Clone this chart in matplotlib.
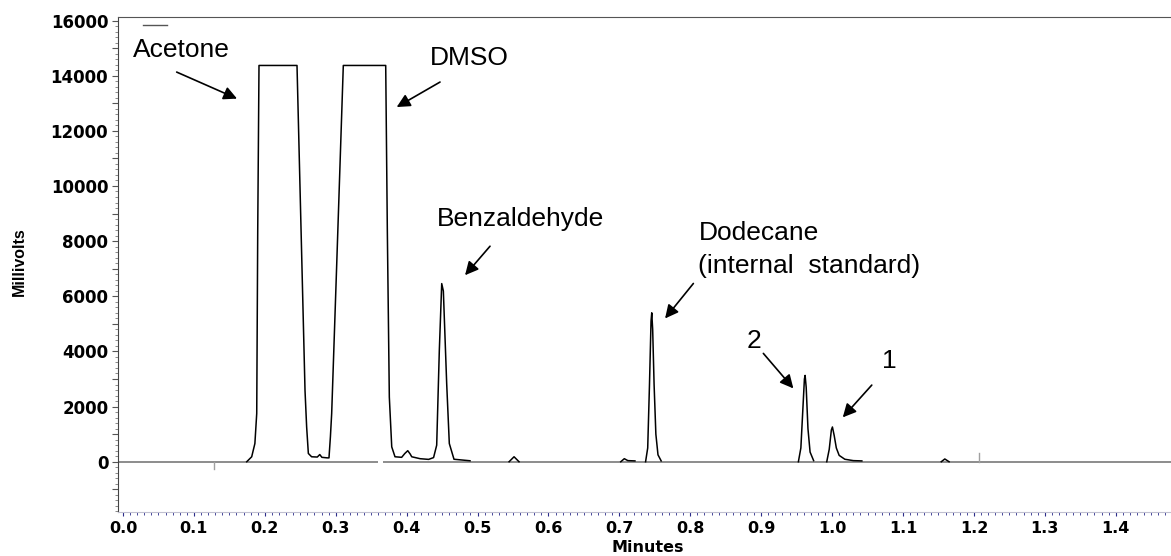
import numpy as np
import matplotlib
matplotlib.use('Agg')
import matplotlib.pyplot as plt
from matplotlib.ticker import MultipleLocator, FuncFormatter

# chromatogram trace (minutes, millivolts), nan = gap
trace_t = [0.1745, 0.1815, 0.186, 0.1886, 0.190, 0.1918, 0.2454, 0.2567, 0.259, 0.2614, 0.266, 0.274, 0.2775,
           0.2805, 0.288, 0.2905, 0.2925, 0.2943, 0.3014, 0.3107, 0.3705, 0.3728, 0.3756, 0.379, 0.3836, 0.393,
           0.3975, 0.4016, 0.405, 0.4072, 0.419, 0.431, 0.438, 0.4424, 0.4461, 0.4495, 0.4518, 0.4565, 0.4602,
           0.4668, 0.4894, np.nan,
           0.5445, 0.5515, 0.5585, np.nan,
           0.702, 0.707, 0.712, 0.722, np.nan,
           0.737, 0.740, 0.7425, 0.7447, 0.7457, 0.747, 0.749, 0.7515, 0.7545, 0.759, np.nan,
           0.9525, 0.956, 0.959, 0.961, 0.962, 0.9635, 0.966, 0.969, 0.974, np.nan,
           0.9925, 0.996, 0.999, 1.0005, 1.003, 1.006, 1.010, 1.018, 1.030, 1.042, np.nan,
           1.154, 1.159, 1.165]
trace_mv = [0, 180, 660, 1750, 8360, 14370, 14370, 2580, 1260, 300, 180, 170, 260,
            160, 140, 140, 900, 1750, 7160, 14370, 14370, 8360, 2345, 540, 180, 160,
            300, 400, 280, 180, 110, 85, 150, 600, 4030, 6460, 6190, 2830, 660,
            90, 35, np.nan,
            0, 180, 0, np.nan,
            0, 110, 40, 30, np.nan,
            0, 500, 2800, 5100, 5400, 4800, 2800, 1000, 250, 30, np.nan,
            0, 500, 2000, 3000, 3130, 2700, 1200, 350, 40, np.nan,
            0, 450, 1150, 1260, 950, 500, 230, 90, 40, 30, np.nan,
            0, 100, 0]

# grey baseline pieces and event marks
base_start = [-0.01, 0.367]
base_end = [0.360, 1.50]
event_t = [0.129, 1.207]
event_mv = [-280, 300]
stub_t = [0.0286, 0.0616]
stub_mv = [15820, 15820]

# labels: text, text pos, arrow tail, arrow tip
labels = ['Acetone', 'DMSO', 'Benzaldehyde', 'Dodecane', '2']
label_t = [0.0141, 0.433, 0.4429, 0.8128, 0.880]
label_mv = [14674, 14373, 8540, 8033, 4109]
tail_t = [0.0757, 0.4471, 0.5176, 0.8044, 0.9031]
tail_mv = [14130, 13768, 7815, 6464, 3928]
tip_t = [0.1608, 0.386, 0.4824, 0.7645, 0.9454]
tip_mv = [13167, 12862, 6764, 5196, 2659]
extra_labels = ['(internal  standard)', '1']
extra_t = [0.8114, 1.0804]
extra_mv = [6826, 3384]
extra_tail_t = [1.056]
extra_tail_mv = [2779]
extra_tip_t = [1.0151]
extra_tip_mv = [1609]

fig = plt.figure(figsize=(11.71, 5.56), dpi=100)
ax = fig.add_axes([118 / 1171.0, 1 - 511.7 / 556, 1 - 118 / 1171.0, (511.7 - 16.7) / 556])

for a, b in zip(base_start, base_end):
    ax.plot([a, b], [0, 0], color='#8c8c8c', lw=1.4, solid_capstyle='butt')
for t, h in zip(event_t, event_mv):
    ax.plot([t, t], [0, h], color='#a0a0a0', lw=1.0)
ax.plot(stub_t, stub_mv, color='#555555', lw=1.0)
ax.plot(trace_t, trace_mv, color='black', lw=1.1)

txt = dict(family='Liberation Sans', fontsize=19, color='black')
arrow = dict(arrowstyle='-|>', color='black', lw=1.2, mutation_scale=20, shrinkA=0, shrinkB=0)
for i in range(len(labels)):
    ax.text(label_t[i], label_mv[i], labels[i], ha='left', va='baseline', **txt)
    ax.annotate('', xy=(tip_t[i], tip_mv[i]), xytext=(tail_t[i], tail_mv[i]), arrowprops=arrow)
ax.text(extra_t[0], extra_mv[0], extra_labels[0], ha='left', va='baseline', **txt)
ax.text(extra_t[1], extra_mv[1], extra_labels[1], ha='center', va='baseline', **txt)
ax.annotate('', xy=(extra_tip_t[0], extra_tip_mv[0]), xytext=(extra_tail_t[0], extra_tail_mv[0]),
            arrowprops=arrow)

ax.set_xlim(-0.00705, 1.478)
ax.set_ylim(-1812, 16138)

ax.spines['right'].set_visible(False)
ax.spines['top'].set_color('#555555')
ax.spines['left'].set_color('#444444')
ax.spines['bottom'].set_color('#c0c0d0')
ax.spines['bottom'].set_linewidth(0.8)

ax.yaxis.set_major_locator(MultipleLocator(1000))
ax.yaxis.set_minor_locator(MultipleLocator(200))
ax.yaxis.set_major_formatter(FuncFormatter(lambda v, p: '%d' % v if int(round(v)) % 2000 == 0 else ''))
ax.tick_params(axis='y', which='major', length=4, width=0.8, color='#555555', pad=3)
ax.tick_params(axis='y', which='minor', length=2, width=0.6, color='#777777')

ax.xaxis.set_major_locator(MultipleLocator(0.1))
ax.xaxis.set_minor_locator(MultipleLocator(0.01))
ax.xaxis.set_major_formatter(FuncFormatter(lambda v, p: '%.1f' % v))
ax.tick_params(axis='x', which='major', length=3, width=0.8, color='#2a2a8a', pad=4)
ax.tick_params(axis='x', which='minor', length=2, width=0.6, color='#2a2a8a')

for lab in ax.get_yticklabels():
    lab.set_family('DejaVu Sans')
    lab.set_fontweight('bold')
    lab.set_fontsize(12)
for lab in ax.get_xticklabels():
    lab.set_family('DejaVu Sans')
    lab.set_fontweight('bold')
    lab.set_fontsize(11.5)

fig.text(648 / 1171.0, 1 - 547.0 / 556, 'Minutes', ha='center', va='center',
         family='DejaVu Sans', fontweight='bold', fontsize=11.5)
fig.text(19 / 1171.0, 1 - 262 / 556, 'Millivolts', ha='center', va='center', rotation=90,
         family='Liberation Sans', fontweight='bold', fontsize=11.5)

fig.savefig('out.png', dpi=100)
